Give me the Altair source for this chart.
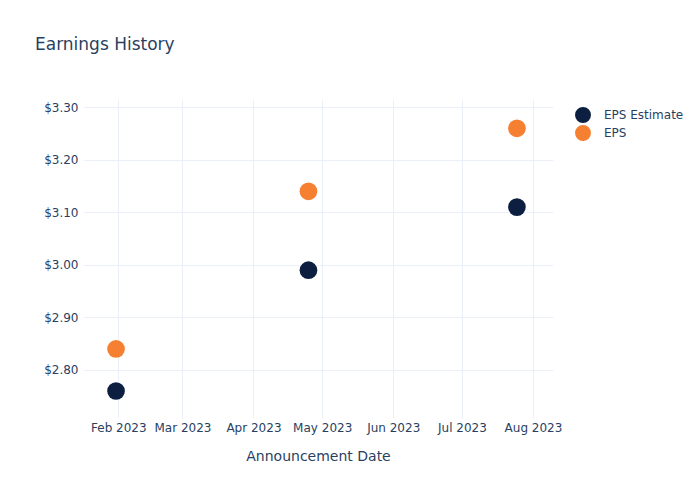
import altair as alt
import pandas as pd

dates = ["2023-01-31", "2023-04-25", "2023-07-25"]
eps_estimate = [2.76, 2.99, 3.11]
eps_actual = [2.84, 3.14, 3.26]
series_names = ["EPS Estimate", "EPS"]
series_colors = ["#0c1f40", "#f58031"]
tick_dates = ["2023-02-01", "2023-03-01", "2023-04-01", "2023-05-01",
              "2023-06-01", "2023-07-01", "2023-08-01"]
y_ticks = [2.8, 2.9, 3.0, 3.1, 3.2, 3.3]

rows = []
for d, e, a in zip(dates, eps_estimate, eps_actual):
    rows.append({"date": d, "series": series_names[0], "value": e})
    rows.append({"date": d, "series": series_names[1], "value": a})
df = pd.DataFrame(rows)

font = "DejaVu Sans"
text_color = "#2a3f5f"
grid_color = "#ebf0f8"

tick_dt = [alt.DateTime(year=int(t[:4]), month=int(t[5:7]), date=int(t[8:10])) for t in tick_dates]

chart = alt.Chart(df).mark_circle(size=314, opacity=1).encode(
    x=alt.X("date:T", title="Announcement Date",
            scale=alt.Scale(domain=[alt.DateTime(year=2023, month=1, date=16, hours=14),
                                    alt.DateTime(year=2023, month=8, date=9, hours=18)]),
            axis=alt.Axis(values=tick_dt, format="%b %Y", labelFontSize=12,
                          titleFontSize=14, titlePadding=16, labelPadding=4,
                          domain=False, ticks=False, gridColor=grid_color,
                          labelColor=text_color, titleColor=text_color,
                          labelFont=font, titleFont=font, titleFontWeight="normal")),
    y=alt.Y("value:Q", title=None,
            scale=alt.Scale(domain=[2.7086, 3.3139], zero=False, nice=False),
            axis=alt.Axis(values=y_ticks, format="$.2f", labelFontSize=12,
                          domain=False, ticks=False, gridColor=grid_color,
                          labelColor=text_color, labelFont=font, labelPadding=5)),
    color=alt.Color("series:N", sort=series_names,
                    scale=alt.Scale(domain=series_names, range=series_colors),
                    legend=alt.Legend(title=None, orient="none", legendX=492, legendY=7,
                                      symbolSize=254, symbolType="circle",
                                      symbolStrokeWidth=0, symbolOpacity=1,
                                      labelFontSize=12, labelFont=font,
                                      labelColor=text_color, labelOffset=13,
                                      rowPadding=2, padding=0)),
).properties(
    width=470, height=318,
    title=alt.TitleParams("Earnings History", anchor="start", frame="group", dx=-48, offset=46,
                          fontSize=17, font=font, fontWeight="normal", color=text_color),
    autosize=alt.AutoSizeParams(type="none"),
    padding={"left": 75, "top": 92, "right": 139, "bottom": 66},
).configure_view(stroke=None)

chart.save("out.html", embed_options={"renderer": "svg", "actions": False})
